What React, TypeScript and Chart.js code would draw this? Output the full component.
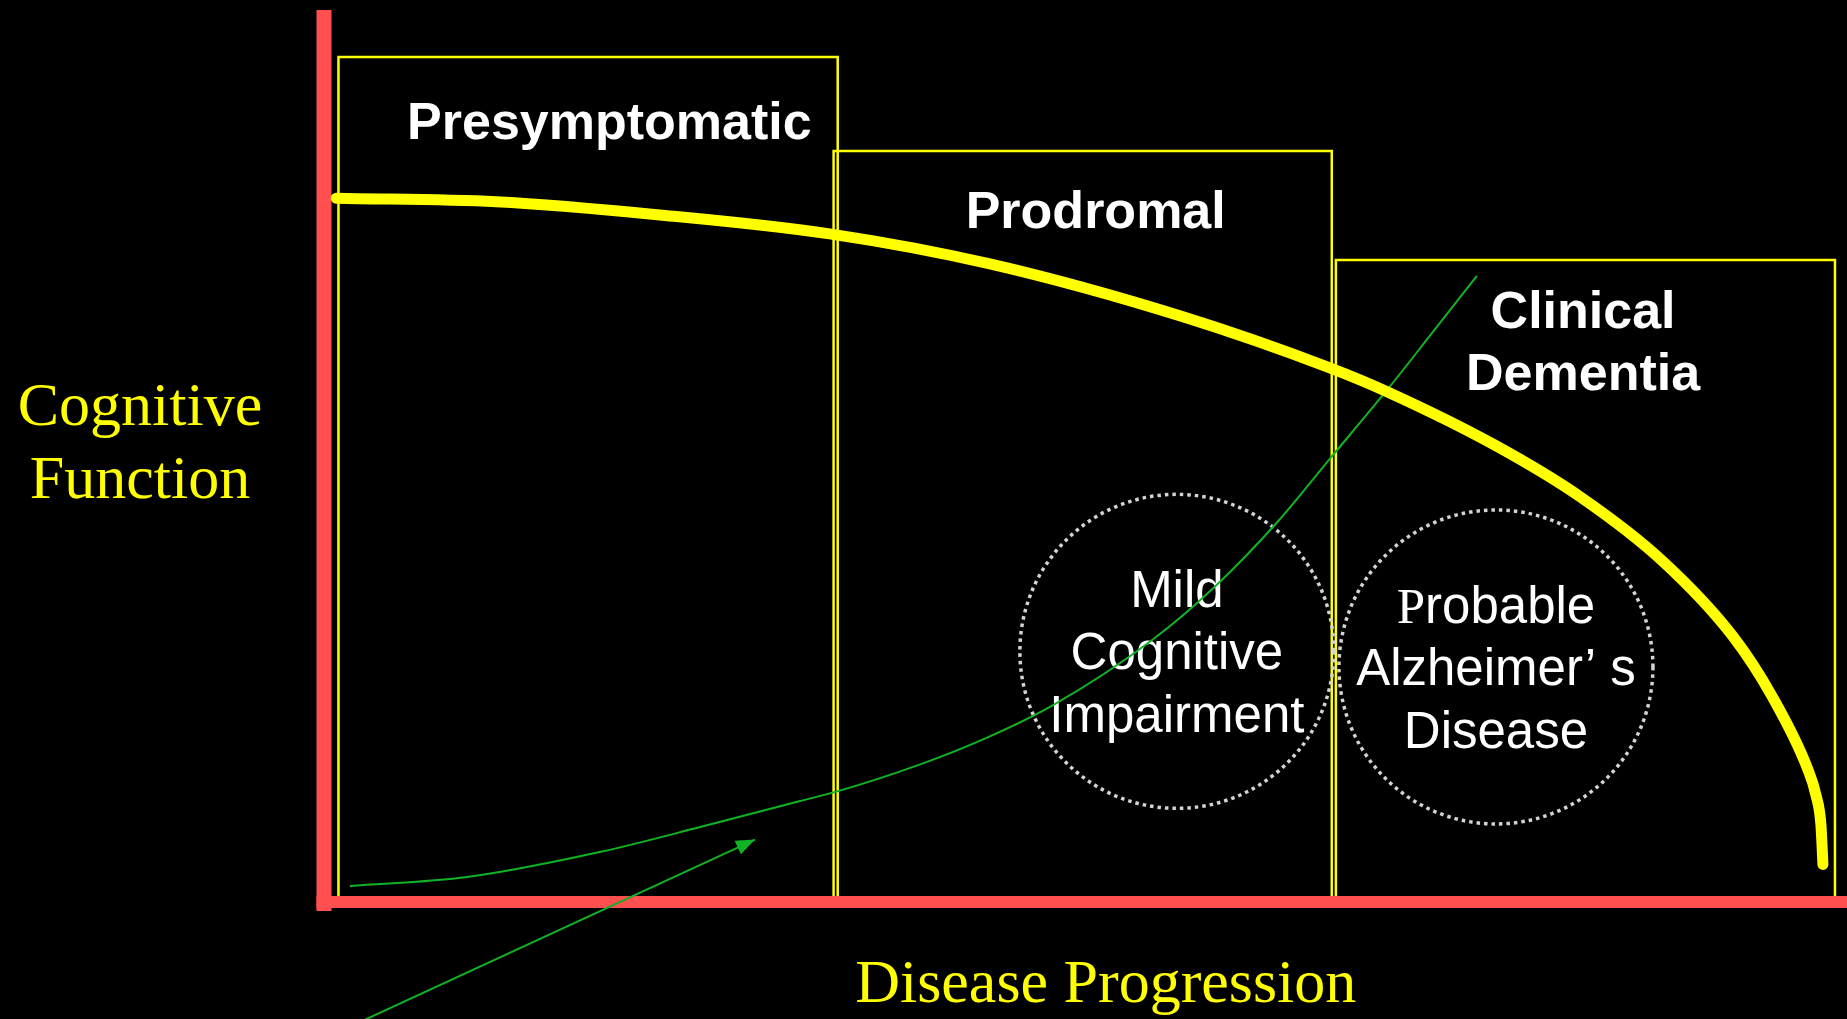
import React, { useEffect, useRef } from 'react';
import { Chart, registerables } from 'chart.js';

Chart.register(...registerables);

// ---- data (x: disease progression 0-100, y: cognitive function 0-100) ----
const stageNames = ['Presymptomatic', 'Prodromal', 'Clinical Dementia'];
const stageStart = [0.95, 33.46, 66.44];
const stageEnd = [33.73, 66.17, 99.21];
const stageTop = [94.73, 84.19, 71.97];
const stageBottom = 0.67;

const cognitionX = [0.8, 11.3, 22.2, 33.2, 43.8, 56.4, 66.0, 69.8, 77.0, 82.5, 87.9, 92.5, 95.1, 97.4, 97.96, 98.29, 98.42];
const cognitionY = [78.9, 78.5, 77.0, 74.9, 71.5, 65.6, 59.9, 57.2, 51.1, 45.4, 38.2, 29.8, 23.0, 15.0, 12.0, 8.6, 4.2];

const pathologyX = [1.7, 9.4, 18.1, 24.7, 31.2, 33.7, 39.1, 43.5, 47.9, 54.4, 58.4, 62.6, 66.0, 69.8, 72.9, 75.7];
const pathologyY = [1.8, 2.8, 5.6, 8.4, 11.3, 12.4, 15.4, 18.4, 22.1, 29.4, 35.2, 42.6, 49.6, 57.4, 64.1, 70.2];

const arrowX = [2.3, 28.3];
const arrowY = [-13.5, 7.0];

const syndromeLines = [
  ['Mild', 'Cognitive', 'Impairment'],
  ['Probable', 'Alzheimer\u2019 s', 'Disease'],
];
const syndromeX = [56.0, 76.95];
const syndromeY = [28.1, 26.35];

const yTitleLines = ['Cognitive', 'Function'];
const xTitle = 'Disease Progression';

// ---- label layout (data units) ----
const stageTitleX = [18.74, 50.67, 82.67];
const stageTitleBaselines = [[85.54], [75.56], [64.35, 57.4]];
const yTitleX = -12.08;
const yTitleBaselines = [53.48, 45.29];
const xTitleX = 51.33;
const xTitleBaseline = -11.21;

const YELLOW = '#ffff00';
const RED = '#ff4f4f';
const GREEN = '#10b324';
const DOTS = '#d4d4d4';

const SANS = '"Liberation Sans", Arial, sans-serif';
const SERIF = '"Liberation Serif", "Times New Roman", serif';

const CIRCLE_INDEX = 2;
const ARROW_INDEX = 1;

const annotate = {
  id: 'annotate',
  beforeDatasetsDraw(chart: any) {
    const { ctx, scales, chartArea } = chart;
    const x = scales.x;
    const y = scales.y;
    ctx.save();
    ctx.textAlign = 'center';
    ctx.textBaseline = 'alphabetic';

    // stage titles
    ctx.fillStyle = '#ffffff';
    ctx.font = `bold 52px ${SANS}`;
    stageNames.forEach((name, i) => {
      const lines = name.split(' ');
      lines.forEach((ln, j) => {
        ctx.fillText(ln, x.getPixelForValue(stageTitleX[i]), y.getPixelForValue(stageTitleBaselines[i][j]));
      });
    });

    // syndrome labels inside the dotted circles
    const offsets = [-44, 18, 81];
    syndromeLines.forEach((lines, i) => {
      const cx = x.getPixelForValue(syndromeX[i]);
      const cy = y.getPixelForValue(syndromeY[i]);
      lines.forEach((ln, j) => {
        const by = cy + offsets[j];
        if (ln === 'Probable') {
          ctx.font = `51px ${SERIF}`;
          const wP = ctx.measureText('P').width;
          ctx.font = `51px ${SANS}`;
          const wR = ctx.measureText('robable').width;
          const start = cx - (wP + wR) / 2;
          ctx.textAlign = 'left';
          ctx.font = `51px ${SERIF}`;
          ctx.fillText('P', start, by);
          ctx.font = `51px ${SANS}`;
          ctx.fillText('robable', start + wP, by);
          ctx.textAlign = 'center';
        } else {
          ctx.font = `51px ${SANS}`;
          ctx.fillText(ln, cx, by);
        }
      });
    });

    // axis titles
    ctx.fillStyle = YELLOW;
    ctx.font = `62px ${SERIF}`;
    yTitleLines.forEach((ln, j) => {
      ctx.fillText(ln, x.getPixelForValue(yTitleX), y.getPixelForValue(yTitleBaselines[j]));
    });
    ctx.fillText(xTitle, x.getPixelForValue(xTitleX), y.getPixelForValue(xTitleBaseline));

    // red axes
    const x0 = x.getPixelForValue(0);
    const y0 = y.getPixelForValue(0);
    ctx.fillStyle = RED;
    ctx.fillRect(x0 - 7.5, chartArea.top, 15, y0 + 9 - chartArea.top);
    ctx.fillRect(x0 - 7.5, y0 - 6, chart.width - (x0 - 7.5), 12);
    ctx.restore();
  },
  beforeDatasetDraw(chart: any, args: any) {
    if (args.index === CIRCLE_INDEX) {
      chart.ctx.save();
      chart.ctx.setLineDash([3.5, 4]);
      chart.ctx.lineCap = 'butt';
    }
  },
  afterDatasetDraw(chart: any, args: any) {
    if (args.index === CIRCLE_INDEX) {
      chart.ctx.restore();
    }
  },
  afterDatasetsDraw(chart: any) {
    const { ctx } = chart;
    const pts = chart.getDatasetMeta(ARROW_INDEX).data;
    if (!pts || pts.length < 2) return;
    const p0 = pts[0];
    const p1 = pts[pts.length - 1];
    const ang = Math.atan2(p1.y - p0.y, p1.x - p0.x);
    const len = 19;
    const half = 7.5;
    ctx.save();
    ctx.fillStyle = GREEN;
    ctx.beginPath();
    ctx.moveTo(p1.x, p1.y);
    ctx.lineTo(p1.x - len * Math.cos(ang) + half * Math.sin(ang), p1.y - len * Math.sin(ang) - half * Math.cos(ang));
    ctx.lineTo(p1.x - len * Math.cos(ang) - half * Math.sin(ang), p1.y - len * Math.sin(ang) + half * Math.cos(ang));
    ctx.closePath();
    ctx.fill();
    ctx.restore();
  },
};

export default function App() {
  const ref = useRef<HTMLCanvasElement>(null);

  useEffect(() => {
    const canvas = ref.current;
    if (!canvas) return;

    const boxDatasets = stageNames.map((name, i) => ({
      label: name,
      data: [
        { x: stageStart[i], y: stageBottom },
        { x: stageStart[i], y: stageTop[i] },
        { x: stageEnd[i], y: stageTop[i] },
        { x: stageEnd[i], y: stageBottom },
      ],
      showLine: true,
      borderColor: YELLOW,
      borderWidth: 2.5,
      pointRadius: 0,
      tension: 0,
      fill: false,
      clip: false,
      borderJoinStyle: 'miter',
      order: 4,
    }));

    const chart = new Chart(canvas, {
      type: 'scatter',
      data: {
        datasets: [
          {
            label: 'Cognitive function',
            data: cognitionX.map((v, i) => ({ x: v, y: cognitionY[i] })),
            showLine: true,
            borderColor: YELLOW,
            borderWidth: 11,
            borderCapStyle: 'round',
            borderJoinStyle: 'round',
            pointRadius: 0,
            cubicInterpolationMode: 'monotone',
            fill: false,
            clip: false,
            order: 0,
          },
          {
            label: 'Arrow',
            data: arrowX.map((v, i) => ({ x: v, y: arrowY[i] })),
            showLine: true,
            borderColor: GREEN,
            borderWidth: 2,
            pointRadius: 0,
            fill: false,
            clip: false,
            order: 1,
          },
          {
            label: 'Syndromes',
            data: syndromeX.map((v, i) => ({ x: v, y: syndromeY[i] })),
            showLine: false,
            pointRadius: 157,
            pointBorderWidth: 3.5,
            pointBorderColor: DOTS,
            pointBackgroundColor: 'rgba(0,0,0,0)',
            clip: false,
            order: 3,
          },
          {
            label: 'Pathology',
            data: pathologyX.map((v, i) => ({ x: v, y: pathologyY[i] })),
            showLine: true,
            borderColor: GREEN,
            borderWidth: 2,
            pointRadius: 0,
            cubicInterpolationMode: 'monotone',
            fill: false,
            clip: false,
            order: 2,
          },
          ...boxDatasets,
        ] as any,
      },
      options: {
        responsive: false,
        maintainAspectRatio: false,
        animation: false,
        events: [],
        layout: { autoPadding: false, padding: { left: 324, right: 0, top: 10, bottom: 117 } },
        scales: {
          x: { type: 'linear', min: 0, max: 100, display: false },
          y: { type: 'linear', min: 0, max: 100, display: false },
        },
        plugins: {
          legend: { display: false },
          tooltip: { enabled: false },
        },
      } as any,
      plugins: [annotate],
    });

    return () => chart.destroy();
  }, []);

  return (
    <div style={{ position: 'fixed', left: 0, top: 0, width: 1847, height: 1019, background: '#000' }}>
      <canvas ref={ref} width={1847} height={1019} style={{ display: 'block', width: 1847, height: 1019 }} />
    </div>
  );
}
